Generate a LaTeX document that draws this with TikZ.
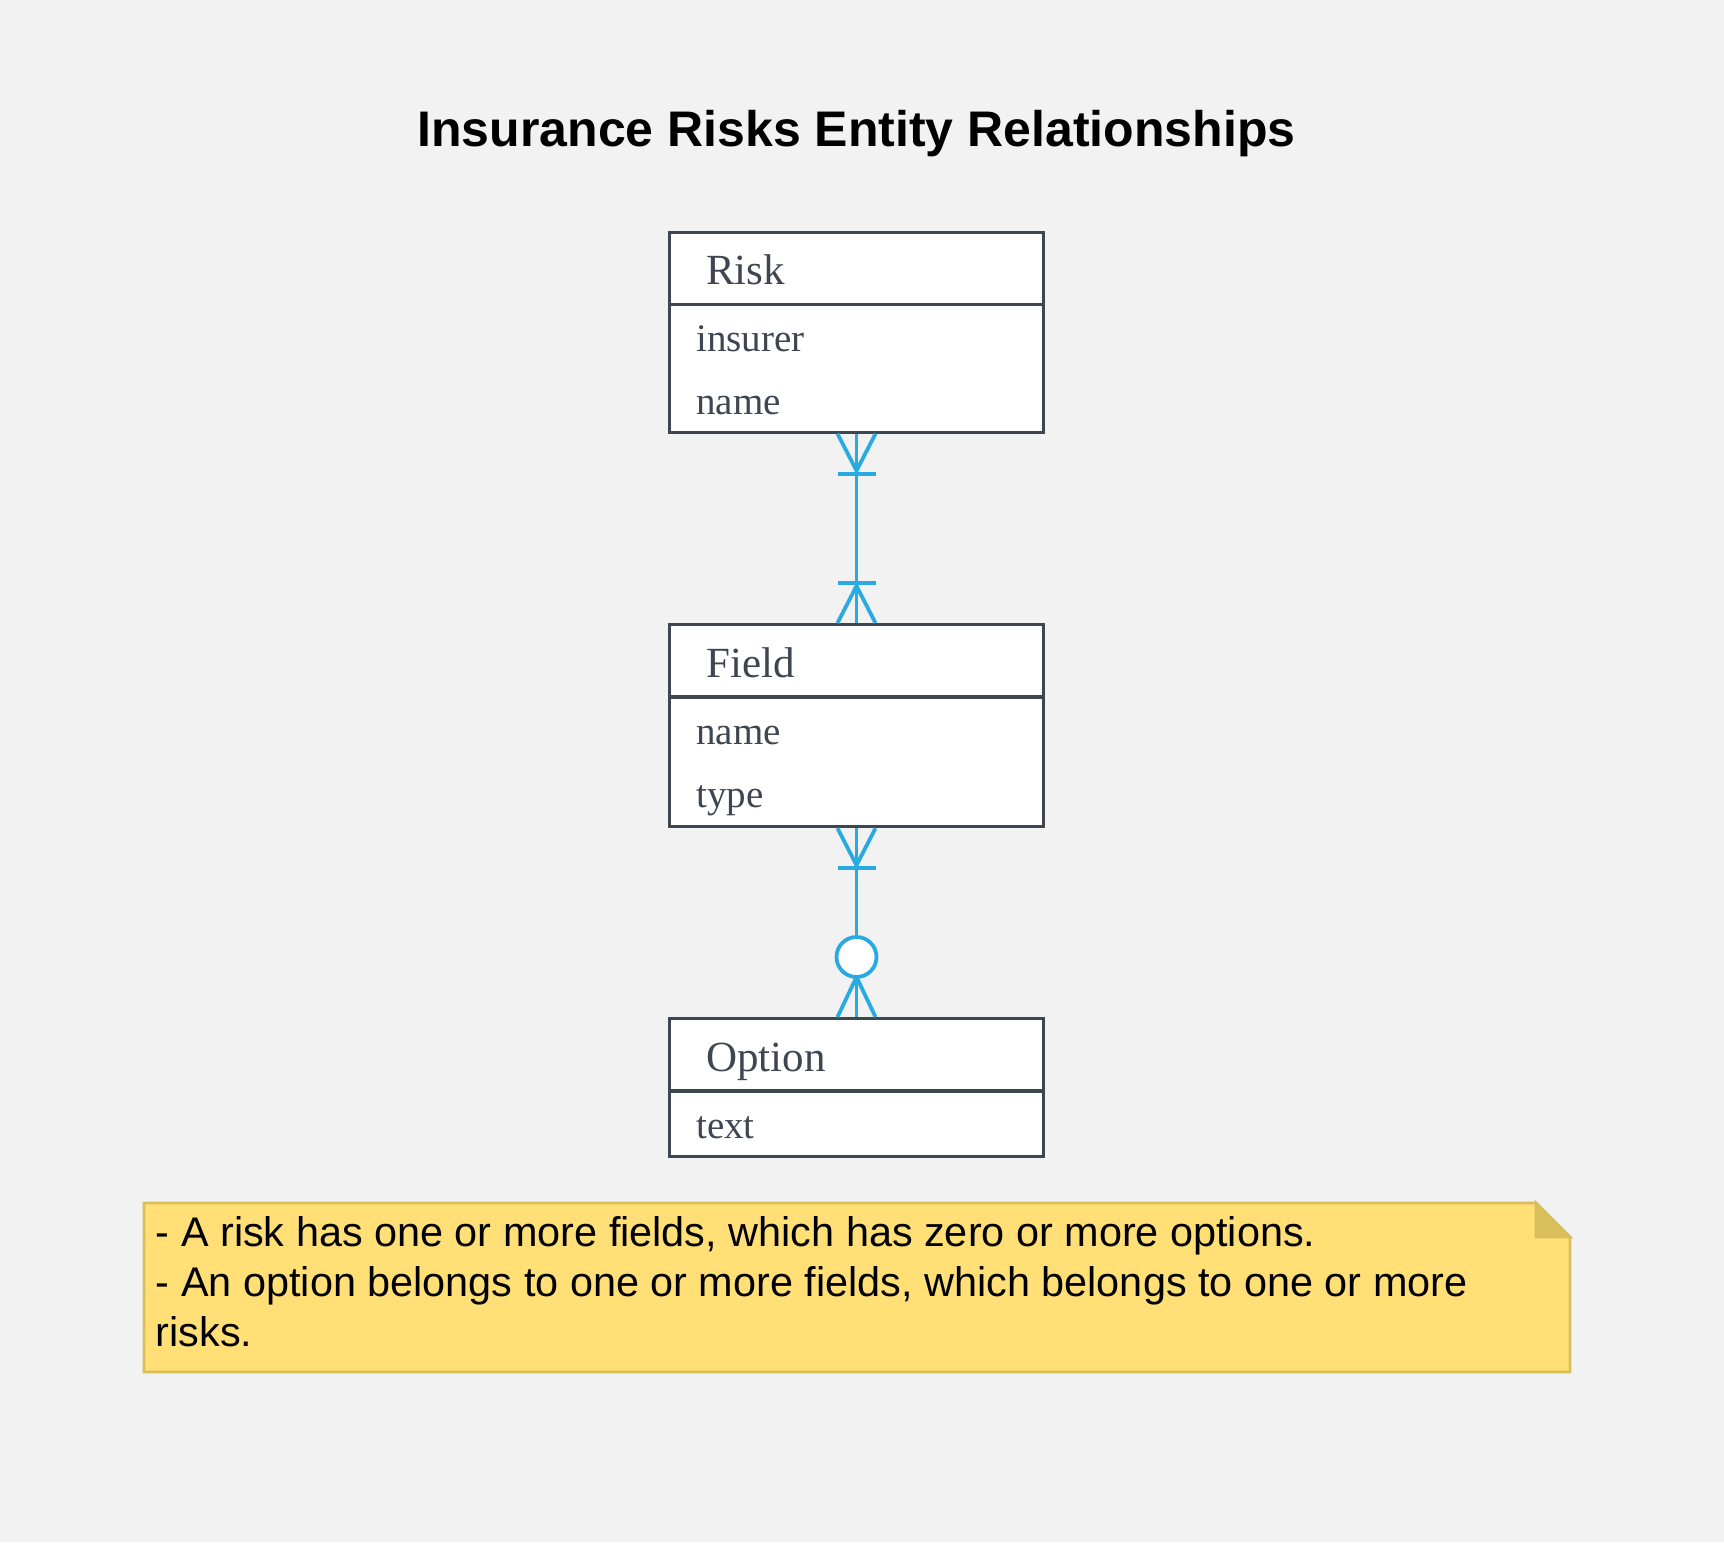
\documentclass[tikz,border=0pt]{standalone}
\usepackage{fontspec}
\setmainfont{Liberation Serif}
\setsansfont{Liberation Sans}
\usetikzlibrary{calc}
\definecolor{bgc}{RGB}{242,242,242}
\definecolor{ink}{RGB}{62,70,81}
\definecolor{relc}{RGB}{41,170,225}
\definecolor{notefill}{RGB}{255,223,118}
\definecolor{notedraw}{RGB}{217,190,92}
\begin{document}
\begin{tikzpicture}[x=0.5pt,y=-0.5pt,line join=miter,
	entity/.style={draw=ink,line width=1.6pt,fill=white,minimum width=187pt,inner sep=0pt,anchor=north},
	rowline/.style={draw=ink,line width=1.6pt},
	enthead/.style={anchor=base west,inner sep=0pt,text=ink,font={\fontsize{21.5pt}{26pt}\selectfont}},
	attr/.style={anchor=base west,inner sep=0pt,text=ink,font={\fontsize{19.5pt}{24pt}\selectfont}},
	rel/.style={draw=relc,line width=1.9pt,line join=round},
	heading/.style={anchor=base,inner sep=0pt,font={\sffamily\bfseries\fontsize{25pt}{30pt}\selectfont}},
	notebox/.style={fill=notefill,draw=notedraw,line width=1.4pt},
	notefold/.style={fill=notedraw,draw=notedraw,line width=1.4pt},
	notetext/.style={anchor=base west,inner sep=0pt,font={\sffamily\fontsize{20.7pt}{25pt}\selectfont}}]
	%% khung hình
	\def \cx{856.5}
	\fill[bgc] (0,0) rectangle (1724,1542);
	\useasboundingbox (0,0) rectangle (1724,1542);
	\node[heading] (title) at (\cx,146) {Insurance Risks Entity Relationships};
	%% các thực thể
	\node[entity,minimum height=100pt] (risk) at (\cx,230.5) {};
	\node[entity,minimum height=101pt] (field) at (\cx,623) {};
	\node[entity,minimum height=69pt] (option) at (\cx,1017) {};
	\foreach \e in {risk,field,option}
	\draw[rowline] ($(\e.north west)+(0,74)$) -- ($(\e.north east)+(0,74)$);
	\node[enthead] (risktitle) at ($(risk.north west)+(38,54)$) {Risk};
	\node[attr] (riskinsurer) at ($(risk.north west)+(28,121)$) {insurer};
	\node[attr] (riskname) at ($(risk.north west)+(28,184)$) {name};
	\node[enthead] (fieldtitle) at ($(field.north west)+(38,54)$) {Field};
	\node[attr] (fieldname) at ($(field.north west)+(28,121)$) {name};
	\node[attr] (fieldtype) at ($(field.north west)+(28,184)$) {type};
	\node[enthead] (optiontitle) at ($(option.north west)+(38,54)$) {Option};
	\node[attr] (optiontext) at ($(option.north west)+(28,121)$) {text};
	%% quan hệ Risk -- Field
	\draw[rel] (risk.south) -- (field.north);
	\draw[rel] ($(risk.south)+(-19,0)$) -- ($(risk.south)+(0,37)$) -- ($(risk.south)+(19,0)$);
	\draw[rel] ($(risk.south)+(-19,40)$) -- ($(risk.south)+(19,40)$);
	\draw[rel] ($(field.north)+(-19,0)$) -- ($(field.north)+(0,-37)$) -- ($(field.north)+(19,0)$);
	\draw[rel] ($(field.north)+(-19,-40)$) -- ($(field.north)+(19,-40)$);
	%% quan hệ Field -- Option
	\draw[rel] (field.south) -- (option.north);
	\draw[rel] ($(field.south)+(-19,0)$) -- ($(field.south)+(0,37)$) -- ($(field.south)+(19,0)$);
	\draw[rel] ($(field.south)+(-19,40)$) -- ($(field.south)+(19,40)$);
	\draw[rel] ($(option.north)+(-19,0)$) -- ($(option.north)+(0,-40)$) -- ($(option.north)+(19,0)$);
	\draw[rel,fill=white] ($(option.north)+(0,-60)$) circle[radius=10pt];
	%% ghi chú
	\draw[notebox] (144,1203) -- (1536,1203) -- (1570,1237) -- (1570,1372) -- (144,1372) -- cycle;
	\draw[notefold] (1536,1203) -- (1536,1237) -- (1570,1237) -- cycle;
	\foreach \t [count=\i] in {{- A risk has one or more fields, which has zero or more options.},{- An option belongs to one or more fields, which belongs to one or more},{risks.}}
	\node[notetext] (note\i) at (155.5,1196+50*\i) {\t};
\end{tikzpicture}
\end{document}
